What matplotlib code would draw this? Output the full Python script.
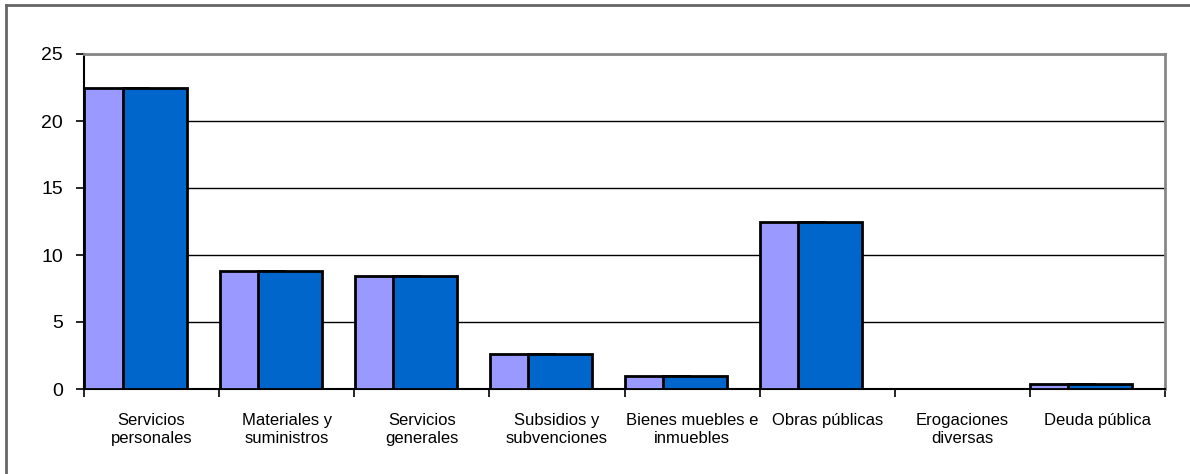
import numpy as np
import matplotlib.pyplot as plt
from matplotlib.lines import Line2D

# Datos
categorias = ['Servicios\npersonales', 'Materiales y\nsuministros', 'Servicios\ngenerales',
              'Subsidios y\nsubvenciones', 'Bienes muebles e\ninmuebles', 'Obras públicas',
              'Erogaciones\ndiversas', 'Deuda pública']
serie1 = [22.5, 8.8, 8.4, 2.6, 1.0, 12.5, 0.0, 0.4]
serie2 = [22.5, 8.8, 8.4, 2.6, 1.0, 12.5, 0.0, 0.4]

plt.rcParams['font.family'] = ['Liberation Sans', 'DejaVu Sans']

fig = plt.figure(figsize=(11.9, 4.74), dpi=100)
ax = fig.add_axes([84 / 1190, 85 / 474, 1081 / 1190, 335 / 474])

x = np.arange(len(categorias))
ancho = 0.474
ax.bar(x + 0.003, serie1, width=ancho, align='edge', color='#9999ff',
       edgecolor='black', linewidth=2, zorder=3)
ax.bar(x + 0.285, serie2, width=ancho, align='edge', color='#0066cc',
       edgecolor='black', linewidth=2, zorder=4)

ax.set_xlim(0, len(categorias))
ax.set_ylim(0, 25)
ax.set_yticks([0, 5, 10, 15, 20, 25])
ax.set_xticks(np.arange(len(categorias) + 1))
ax.set_xticklabels([])
ax.set_xticks(x + 0.5, minor=True)
ax.set_xticklabels(categorias, minor=True, fontsize=12, linespacing=1.3)
ax.tick_params(axis='x', which='minor', length=0, pad=17)
ax.tick_params(axis='x', which='major', length=6, width=1.2, direction='out')
ax.tick_params(axis='y', length=6, width=1.2, labelsize=14, pad=9)

ax.yaxis.grid(True, color='black', linewidth=1)
ax.set_axisbelow(True)
for lado in ['left', 'bottom']:
    ax.spines[lado].set_color('black')
    ax.spines[lado].set_linewidth(1.5)
for lado in ['top', 'right']:
    ax.spines[lado].set_color('#888888')
    ax.spines[lado].set_linewidth(2)

# borde exterior del gráfico (solo arriba e izquierda)
fig.add_artist(Line2D([5.5 / 1190, 5.5 / 1190], [0, 1 - 4.5 / 474], color='#666666', linewidth=2))
fig.add_artist(Line2D([5.5 / 1190, 1], [1 - 4.5 / 474, 1 - 4.5 / 474], color='#666666', linewidth=2))

plt.savefig('out.png', dpi=100)
